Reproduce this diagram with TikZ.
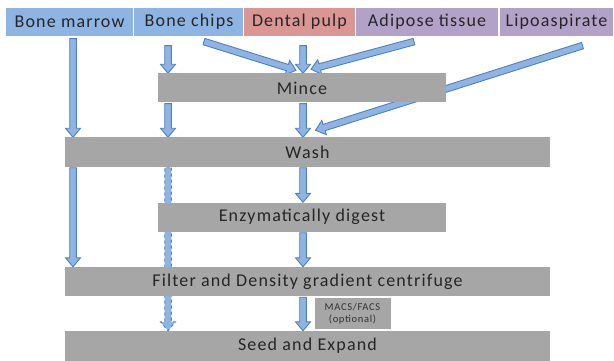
\documentclass[tikz,border=0pt]{standalone}
\usepackage{fontspec}
\setmainfont{Carlito}
\newfontfamily\spacedfont[LetterSpace=6.5]{Carlito}
\usetikzlibrary{calc, backgrounds}
\definecolor{SrcBlue}{HTML}{8EB4E3}
\definecolor{SrcRed}{HTML}{D99694}
\definecolor{SrcPurple}{HTML}{B3A2C7}
\definecolor{StageGray}{HTML}{A6A6A6}
\definecolor{ArrowFill}{HTML}{8EB4E3}
\definecolor{ArrowEdge}{HTML}{4F81BD}
\tikzset{
  % sources on top
  source/.style={draw=white, line width=1.2pt, minimum height=30, inner sep=0,
    text=black!85, font=\spacedfont\fontsize{18}{20}\selectfont},
  % processing stages
  stage/.style={fill=StageGray, minimum height=29, inner sep=0,
    text=black!85, font=\spacedfont\fontsize{18}{20}\selectfont},
  stage narrow/.style={stage, minimum width=288},
  stage wide/.style={stage, minimum width=485},
  % block arrows
  fat/.style={draw=ArrowEdge, fill=ArrowFill, line width=0.9pt, line join=miter}
}
% block arrow from #2 to #3
\newcommand{\fatarrow}[3][]{%
  \path[fat,#1] let \p1=#2, \p2=#3,
      \n1={veclen(\x2-\x1,\y2-\y1)}, \n2={atan2(\y2-\y1,\x2-\x1)} in
    [shift={(\p1)}, rotate=\n2]
    (0,-3.3) -- ({\n1-9},-3.3) -- ({\n1-9},-7.5) -- (\n1,0)
    -- ({\n1-9},7.5) -- ({\n1-9},3.3) -- (0,3.3) -- cycle;
}
\begin{document}
\begin{tikzpicture}[x=1pt, y=-1pt]
  \useasboundingbox (0,0) rectangle (614,361);
  % arrow columns
  \coordinate (c1) at (73,0);
  \coordinate (c2) at (168,0);
  \coordinate (c3) at (303,0);

  % sources
  \node[source, fill=SrcBlue, minimum width=128] (bm) at (69.5,22) {Bone marrow};
  \node[source, fill=SrcBlue, minimum width=111] (bc) at (189,22) {Bone chips};
  \node[source, fill=SrcRed, minimum width=112] (dp) at (299.5,22) {Dental pulp};
  \node[source, fill=SrcPurple, minimum width=143] (at) at (427,22) {Adipose tissue};
  \node[source, fill=SrcPurple, minimum width=114] (lp) at (556.5,22) {Lipoaspirate};

  % stages
  \node[stage narrow] (mince) at (302,88) {Mince};
  \node[stage wide] (wash) at (307.5,152) {Wash};
  \node[stage narrow] (digest) at (302,217) {Enzymatically digest};
  \node[stage wide] (filter) at (307.5,281.5) {Filter and Density gradient centrifuge};
  \node[stage wide, minimum height=30] (seed) at (307.5,346) {Seed and Expand};
  \node[fill=StageGray, minimum width=76, minimum height=31, inner sep=0,
    align=center, text=black!80, font=\spacedfont\fontsize{10.5}{12.5}\selectfont]
    (macs) at (352.5,313.5) {MACS/FACS\\(optional)};

  \begin{scope}[on background layer]
    \fatarrow{($(c1 |- bm.south)+(0,1)$)}{(c1 |- wash.north)}
    \fatarrow{($(c2 |- bc.south)+(0,8)$)}{(c2 |- mince.north)}
    \fatarrow{($(bc.south)+(15,4)$)}{($(mince.north)+(-6,-3)$)}
    \fatarrow{($(c3 |- dp.south)+(0,8)$)}{(c3 |- mince.north)}
    \fatarrow{($(at.south)+(-13,4)$)}{($(mince.north)+(9,-4)$)}
    \fatarrow{($(lp.south)+(26,8)$)}{($(wash.north)+(8,-7)$)}
    \fatarrow{($(c2 |- mince.south)+(0,1)$)}{(c2 |- wash.north)}
    \fatarrow{($(c3 |- mince.south)+(0,1)$)}{(c3 |- wash.north)}
    \fatarrow{($(c1 |- wash.south)+(0,1)$)}{(c1 |- filter.north)}
    \fatarrow[dashed]{($(c2 |- wash.south)+(0,1)$)}{(c2 |- seed.north)}
    \fatarrow{($(c3 |- wash.south)+(0,1)$)}{(c3 |- digest.north)}
    \fatarrow{($(c3 |- digest.south)+(0,1)$)}{(c3 |- filter.north)}
    \fatarrow{($(c3 |- filter.south)+(0,1)$)}{(c3 |- seed.north)}
  \end{scope}
\end{tikzpicture}
\end{document}
